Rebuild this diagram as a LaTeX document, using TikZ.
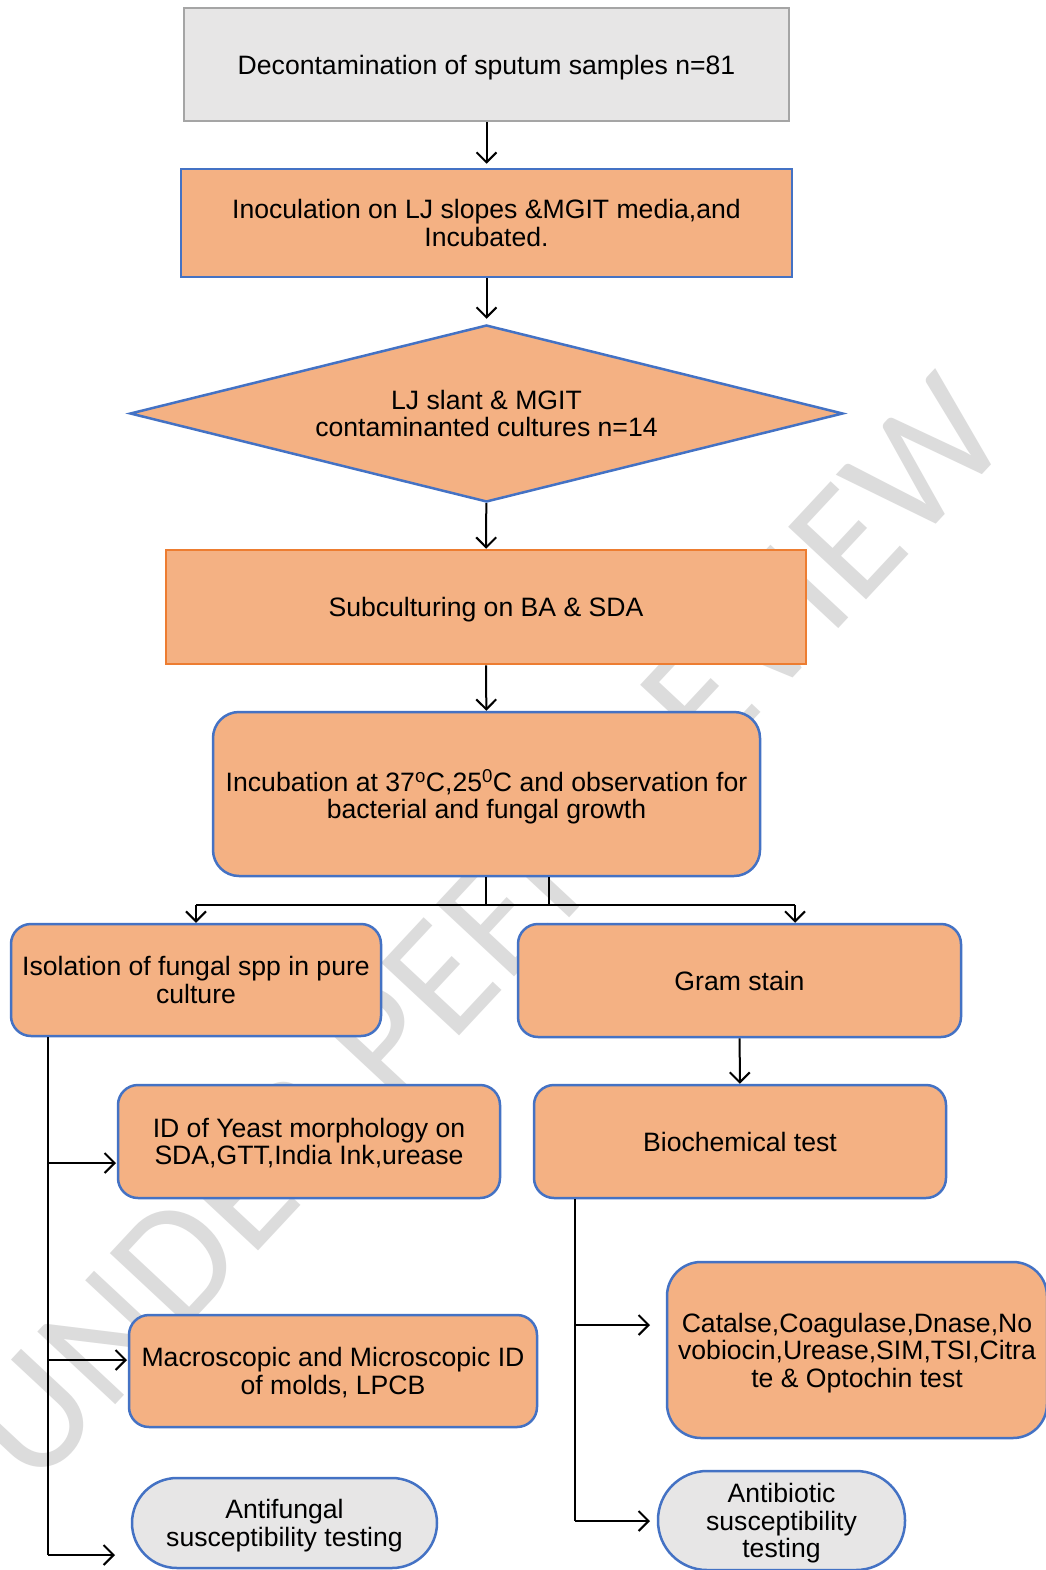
\documentclass[tikz,border=0pt]{standalone}
\usepackage{fontspec}
\setmainfont{Liberation Sans}
\newfontfamily\wmfont{Carlito}
\usetikzlibrary{arrows.meta,shapes.geometric}
\definecolor{orfill}{HTML}{F4B183}
\definecolor{blueline}{HTML}{4472C4}
\definecolor{grayfill}{HTML}{E7E6E6}
\definecolor{grayline}{HTML}{A5A5A5}
\definecolor{orline}{HTML}{ED7D31}
\definecolor{wmgray}{HTML}{DCDCDC}
\begin{document}
\begin{tikzpicture}[x=1pt,y=-1pt,
  every node/.style={font=\fontsize{26.6}{27.6}\selectfont, align=center, inner sep=0pt},
  bx/.style={text depth=0pt},
  obox/.style={bx, draw=blueline, fill=orfill, line width=2.5pt},
  gbox/.style={bx, draw=grayline, fill=grayfill, line width=2.5pt},
  sbox/.style={bx, draw=blueline, fill=grayfill, line width=2.5pt},
  line/.style={line width=2pt, draw=black},
  arr/.style={line width=2pt, draw=black, -{Straight Barb[length=10pt,width=20pt]}}]
\useasboundingbox (0,0) rectangle (1045,1570);
\fill[white] (0,0) rectangle (1045,1570);
% watermark
\node[rotate=47, text=wmgray, font=\wmfont\fontsize{166}{166}\selectfont] (wm) at (486,930) {UNDER PEER REVIEW};
% boxes
\node[gbox, minimum width=605pt, minimum height=113pt] (b1) at (486.5,64.5) {Decontamination of sputum samples n=81};
\node[obox, minimum width=611pt, minimum height=108pt] (b2) at (486.5,223) {Inoculation on LJ slopes \&MGIT media,and\\Incubated.};
\node[obox, shape=diamond, aspect=4, minimum width=713pt, minimum height=177pt] (dia) at (486.5,413.5) {LJ slant \& MGIT\\contaminanted cultures n=14};
\node[bx, draw=orline, fill=orfill, line width=2.5pt, minimum width=640pt, minimum height=114pt] (b4) at (486,607) {Subculturing on BA \& SDA};
\node[obox, rounded corners=26pt, minimum width=547pt, minimum height=164pt] (b5) at (486.5,794) {Incubation at 37\textsuperscript{o}C,25\textsuperscript{0}C and observation for\\bacterial and fungal growth};
\node[obox, rounded corners=20pt, minimum width=370pt, minimum height=112pt] (b6) at (196,980) {Isolation of fungal spp in pure\\culture};
\node[obox, rounded corners=20pt, minimum width=443pt, minimum height=113pt] (b7) at (739.5,980.5) {Gram stain};
\node[obox, rounded corners=20pt, minimum width=412pt, minimum height=113pt] (b8) at (740,1141.5) {Biochemical test};
\node[obox, rounded corners=20pt, minimum width=382pt, minimum height=113pt] (b9) at (309,1141.5) {ID of Yeast morphology on\\SDA,GTT,India Ink,urease};
\node[obox, rounded corners=20pt, minimum width=408pt, minimum height=112pt] (b10) at (333,1371) {Macroscopic and Microscopic ID\\of molds, LPCB};
\node[sbox, rounded corners=45pt, minimum width=305pt, minimum height=90pt] (b11) at (284.5,1523) {Antifungal\\susceptibility testing};
\node[obox, rounded corners=34pt, minimum width=380pt, minimum height=176pt] (b12) at (857,1350) {Catalse,Coagulase,Dnase,No\\vobiocin,Urease,SIM,TSI,Citra\\te \& Optochin test};
\node[sbox, rounded corners=49pt, minimum width=247pt, minimum height=99pt] (b13) at (781.5,1520.5) {Antibiotic\\susceptibility\\testing};
% main connectors
\draw[arr, shorten >=4pt] (b1) -- (b2);
\draw[arr, shorten >=5pt] (b2) -- (dia);
\draw[arr] (dia) -- (b4);
\draw[arr] (b4) -- (b5);
% fork
\coordinate (fl) at (486,905);
\coordinate (fr) at (549,905);
\coordinate (r7) at (795,905);
\draw[line] (fl |- b5.south) -- (fl);
\draw[line] (fr |- b5.south) -- (fr);
\draw[line] (b6.north |- fl) -- (r7);
\draw[arr] (b6.north |- fl) -- (b6.north);
\draw[arr] (r7) -- (r7 |- b7.north);
\draw[arr] (b7) -- (b8);
% left trunk
\coordinate (lt) at (48,1555);
\coordinate (a9) at (116,1163);
\coordinate (a10) at (127,1360);
\coordinate (a11) at (115,1555);
\draw[line] (lt |- b6.south) -- (lt);
\draw[arr] (lt |- a9) -- (a9);
\draw[arr] (lt |- a10) -- (a10);
\draw[arr] (lt) -- (a11);
% right trunk
\coordinate (rt) at (575,1521);
\coordinate (a12) at (650,1325);
\coordinate (a13) at (650,1521);
\draw[line] (rt |- b8.south) -- (rt);
\draw[arr] (rt |- a12) -- (a12);
\draw[arr] (rt) -- (a13);
\end{tikzpicture}
\end{document}
